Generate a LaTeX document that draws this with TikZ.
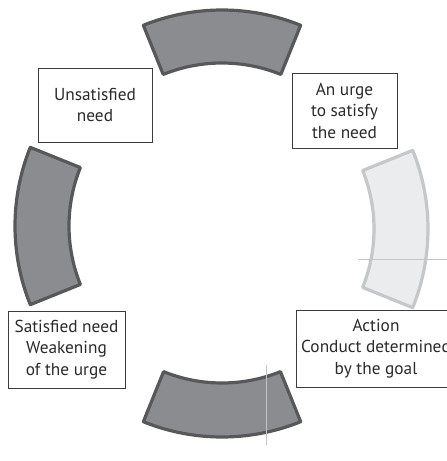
\documentclass[tikz,border=0pt]{standalone}
\usepackage{fontspec}
\setmainfont{PT Sans}
\usetikzlibrary{calc}
\begin{document}
\begin{tikzpicture}[x=1pt,y=-1pt,
  darkseg/.style={fill=segfill,draw=segline,line width=3.2pt,line join=round},
  lightseg/.style={fill=lsegfill,draw=lsegline,line width=3.2pt,line join=round},
  label box/.style={draw=boxline,line width=0.9pt,inner sep=0pt,align=center,
    text=txt,font=\fontsize{17.3}{21.5}\selectfont},
  guide/.style={draw=guideline,line width=0.6pt}]
\definecolor{segfill}{HTML}{8B8C90}
\definecolor{segline}{HTML}{58585B}
\definecolor{lsegfill}{HTML}{EBECEE}
\definecolor{lsegline}{HTML}{C6C7C9}
\definecolor{boxline}{HTML}{3C3C3C}
\definecolor{txt}{HTML}{2A2A2A}
\definecolor{guideline}{HTML}{C4C4C4}
\useasboundingbox (0,0) rectangle (447,461);
\clip (0,0) rectangle (447,461);

% ring of four annular sectors (angles measured with y pointing down)
\begin{scope}[shift={(222,220)}]% top
  \draw[darkseg] (-112:210) arc[start angle=-112,end angle=-68,radius=210]
    -- (-68:157) arc[start angle=-68,end angle=-112,radius=157] -- cycle;
\end{scope}
\begin{scope}[shift={(218,229)}]% right
  \draw[lightseg] (-22:210) arc[start angle=-22,end angle=22,radius=210]
    -- (22:156) arc[start angle=22,end angle=-22,radius=156] -- cycle;
\end{scope}
\begin{scope}[shift={(222,227)}]% bottom
  \draw[darkseg] (68:210) arc[start angle=68,end angle=112,radius=210]
    -- (112:156) arc[start angle=112,end angle=68,radius=156] -- cycle;
\end{scope}
\begin{scope}[shift={(225,226)}]% left
  \draw[darkseg] (158:210) arc[start angle=158,end angle=202,radius=210]
    -- (202:156) arc[start angle=202,end angle=158,radius=156] -- cycle;
\end{scope}

% thin guide lines
\draw[guide] (358,259) -- (447,259);
\draw[guide] (266,365) -- (266,445);

% the four stages
\node[label box,minimum width=114pt,minimum height=74pt] (unsat) at (95,105)
  {Unsatisfied\\need};
\node[label box,minimum width=105pt,minimum height=75pt] (urge) at (344.5,110.5)
  {An urge\\to satisfy\\the need};
\node[label box,minimum width=160pt,minimum height=77pt] (action) at (376,348.5)
  {Action\\Conduct determined\\by the goal};
\node[label box,minimum width=117pt,minimum height=77pt] (satisfied) at (66.5,349.5)
  {Satisfied need\\Weakening\\of the urge};
\end{tikzpicture}
\end{document}
